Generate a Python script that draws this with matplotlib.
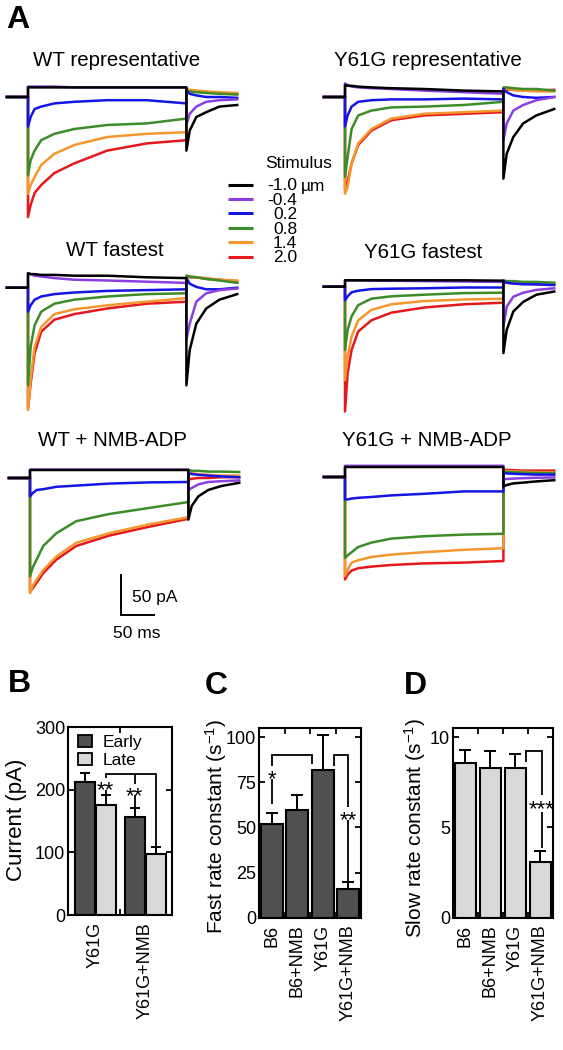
import matplotlib
matplotlib.use('Agg')
import matplotlib.pyplot as plt
from matplotlib.patches import Patch

plt.rcParams['font.family'] = ['Liberation Sans', 'DejaVu Sans']
plt.rcParams['mathtext.fontset'] = 'custom'
plt.rcParams['mathtext.rm'] = 'Liberation Sans'
plt.rcParams['mathtext.it'] = 'Liberation Sans:italic'
plt.rcParams['mathtext.default'] = 'regular'

# ------------------------------------------------------------------ data
stimulus = ['-1.0', '-0.4', '0.2', '0.8', '1.4', '2.0']
stim_unit = 'µm'

pre_t = [-32, 0]
step_t = [0, 4, 10, 20, 40, 70, 120, 180, 240]
off_t = [240, 245, 255, 270, 290, 317]

# currents in pA (negative = inward, drawn downward); rows follow `stimulus`
wt_rep_step = [
    [12, 12, 12, 12, 12, 12, 12, 12, 12],
    [13, 13, 13, 13, 13, 12, 12, 12, 12],
    [-37, -25, -15, -12, -8, -6, -4, -4, -8],
    [-98, -79, -67, -54, -46, -40, -35, -33, -27],
    [-121, -110, -100, -85, -71, -60, -50, -46, -44],
    [-150, -135, -120, -110, -95, -83, -67, -58, -54],
]
wt_rep_off = [
    [-67, -42, -25, -19, -12, -10],
    [-35, -21, -12, -6, -4, -3],
    [8, 4, 2, 0, 0, -1],
    [8, 7, 6, 5, 4, 3],
    [10, 9, 8, 7, 6, 5],
    [9, 8, 7, 6, 5, 4],
]

y61g_rep_step = [
    [15, 14, 14, 13, 12, 11, 10, 8, 7],
    [17, 15, 13, 12, 11, 10, 8, 6, 4],
    [-37, -23, -12, -6, -4, -3, -3, -2, -3],
    [-100, -75, -40, -23, -17, -13, -12, -10, -6],
    [-121, -112, -83, -58, -40, -27, -21, -19, -17],
    [-115, -105, -83, -60, -42, -29, -23, -21, -19],
]
y61g_rep_off = [
    [-102, -71, -50, -33, -23, -15],
    [-54, -33, -17, -10, -4, 0],
    [10, 6, 2, 0, -1, 0],
    [12, 12, 11, 10, 10, 8],
    [10, 10, 9, 8, 7, 7],
    [9, 9, 9, 8, 8, 9],
]

wt_fast_step = [
    [18, 17, 17, 16, 16, 15, 15, 13, 12],
    [18, 17, 15, 14, 12, 10, 9, 7.5, 6],
    [-30, -22, -15, -11, -8, -6, -4, -3, -2],
    [-122, -74, -47, -30, -20, -15, -11, -8, -7],
    [-153, -115, -74, -49, -33, -27, -22, -17.5, -13],
    [-151, -120, -82, -55, -40, -33, -26, -20, -17.5],
]
wt_fast_off = [
    [-122, -78, -45, -26, -15, -8],
    [-65, -45, -17.5, -7, -3, -1],
    [12, 5, 1, -2, -2, 0],
    [15, 14, 13, 11, 9, 6],
    [15, 14, 13, 12, 10, 9],
    [14, 13, 13, 11, 10, 7.5],
]

y61g_fast_step = [
    [8, 8, 8, 8, 8, 8, 8, 8, 7.5],
    [8, 8, 8, 8, 7.5, 7.5, 7, 6.5, 6],
    [-17, -12, -7, -5, -3, -2.5, -2, -1, -1],
    [-79, -54, -37, -23, -15, -12, -10, -8, -7.5],
    [-117, -87, -62, -42, -29, -22, -18, -16, -15],
    [-156, -108, -79, -56, -42, -32.5, -26, -22, -20],
]
y61g_fast_off = [
    [-83, -54, -31, -19, -10, -6],
    [-50, -25, -12.5, -7.5, -4, -2],
    [7, 5, 4, 3, 3, 2],
    [8, 7, 7, 6, 6, 5],
    [6, 6, 5, 5, 4, 4],
    [5, 5, 4, 4, 3, 3],
]

wt_nmb_step = [
    [10, 10, 10, 10, 10, 10, 10, 10, 10],
    [10.5, 10.5, 10.5, 10.5, 10.5, 10.5, 10.5, 10.5, 10.5],
    [-23, -19, -15, -14, -11, -9.5, -7, -5.5, -5],
    [-123, -112, -102, -85, -69, -54, -45, -37.5, -30],
    [-144, -135, -127, -115, -98, -81, -69, -58, -49],
    [-142, -138, -131, -119, -102, -85, -72, -61, -51],
]
wt_nmb_off = [
    [-52, -35, -23, -15, -10, -6],
    [-15, -12.5, -8, -5, -4, -3],
    [6, 5, 4, 3, 2, 1],
    [10, 9, 9, 8, 8, 7.5],
    [7, 6, 5, 4, 3, 3],
    [-2, -1, 0, 0, 1, 1],
]

y61g_nmb_step = [
    [12.5, 12.5, 12.5, 12.5, 12.5, 12.5, 12.5, 12.5, 12.5],
    [14, 14, 14, 14, 14, 14, 14, 14, 14],
    [-28, -28, -27, -26, -25, -23, -21, -18, -18],
    [-101, -98, -94, -87.5, -82, -77, -74, -72, -71],
    [-124, -116, -107, -104, -100, -97, -94, -91, -89],
    [-128, -122, -117, -114, -112, -110, -108, -107, -105],
]
y61g_nmb_off = [
    [-12, -10, -8, -7, -5.5, -4],
    [-3, -2.5, -2, -1.5, -1, -0.5],
    [5, 4.5, 4, 3.5, 3, 3],
    [7, 6.5, 6, 5.5, 5, 5],
    [8, 7.5, 7, 6.5, 6, 6],
    [9, 9, 8.5, 8, 8, 8],
]

# panel B
b_groups = ['Y61G', 'Y61G+NMB']
b_early = [212, 157]
b_early_err = [14, 14]
b_late = [175, 98]
b_late_err = [16, 11]

# panels C, D
cd_groups = ['B6', 'B6+NMB', 'Y61G', 'Y61G+NMB']
fast_rate = [52, 59.5, 81.6, 16]
fast_rate_err = [6, 8.5, 19.3, 3.5]
slow_rate = [8.56, 8.29, 8.29, 3.09]
slow_rate_err = [0.74, 0.91, 0.79, 0.61]

# ------------------------------------------------------------------ style
W, H = 563, 1050
trace_colors = ['#000000', '#8b3fe0', '#1515e6', '#3d8c2a', '#f4972f', '#e5181d']
dark = '#505050'
light = '#d9d9d9'
PX_MS = 0.66   # pixels per ms
PX_PA = 0.8    # pixels per pA
TICK_FS = 13
XTICK_FS = 13
YLAB_FS = 15

fig = plt.figure(figsize=(W / 100, H / 100), dpi=100)


def px_box(x0, y0, x1, y1):
    return [x0 / W, 1 - y1 / H, (x1 - x0) / W, (y1 - y0) / H]


ov = fig.add_axes([0, 0, 1, 1])
ov.set_xlim(0, W)
ov.set_ylim(H, 0)
ov.axis('off')


def trace_panel(onset, base, step_vals, off_vals, title, tpos):
    x0, x1 = onset - 30, onset + 222
    y0, y1 = base - 30, base + 165
    ax = fig.add_axes(px_box(x0, y0, x1, y1))
    ax.set_xlim((x0 - onset) / PX_MS, (x1 - onset) / PX_MS)
    ax.set_ylim(-(y1 - base) / PX_PA, -(y0 - base) / PX_PA)
    ax.axis('off')
    for i in reversed(range(len(stimulus))):
        t = pre_t + step_t + off_t
        v = [0, 0] + list(step_vals[i]) + list(off_vals[i])
        ax.plot(t, v, color=trace_colors[i], lw=1.8, solid_joinstyle='round')
    ov.text(tpos[0], tpos[1], title, ha='center', va='center', fontsize=14.8)
    return ax


trace_panel(28, 97, wt_rep_step, wt_rep_off, 'WT representative', (117, 61))
trace_panel(345, 97, y61g_rep_step, y61g_rep_off, 'Y61G representative', (428, 61))
trace_panel(28, 287.7, wt_fast_step, wt_fast_off, 'WT fastest', (115, 250))
trace_panel(345, 286.7, y61g_fast_step, y61g_fast_off, 'Y61G fastest', (423, 252))
ax_nmb = trace_panel(30, 478, wt_nmb_step, wt_nmb_off, 'WT + NMB-ADP', (113, 440))
trace_panel(345, 477, y61g_nmb_step, y61g_nmb_off, 'Y61G + NMB-ADP', (427, 440))

# scale bar (50 pA, 50 ms) in WT + NMB-ADP data units
sb_t, sb_i = 138, -121
ax_nmb.plot([sb_t, sb_t, sb_t + 50], [sb_i, sb_i - 50, sb_i - 50], color='k',
            lw=1.4, clip_on=False, solid_joinstyle='miter')
ax_nmb.text(sb_t + 17, sb_i - 28, '50 pA', ha='left', va='center', fontsize=12.5)
ax_nmb.text(sb_t + 24, sb_i - 73, '50 ms', ha='center', va='center', fontsize=12.5)

# stimulus legend
ov.text(265, 163, 'Stimulus', ha='left', va='center', fontsize=12.5)
for i, (s, c) in enumerate(zip(stimulus, trace_colors)):
    yy = 184.5 + i * 14.4
    ov.plot([228, 253], [yy, yy], color=c, lw=2.2, solid_capstyle='butt')
    ov.text(297, yy + 6, s, ha='right', va='baseline', fontsize=12.5)
    if i == 0:
        ov.text(301, yy + 6, stim_unit, ha='left', va='baseline', fontsize=12.5)

# panel letters
for letter, (lx, ly) in zip('ABCD', [(18, 20), (19, 684), (216, 686), (415, 686)]):
    ov.text(lx, ly, letter, ha='center', va='center', fontsize=23, fontweight='bold')

# ------------------------------------------------------------------ bar panels
STAR_FS = 16


def star(ax, x, y, s):
    ax.annotate(s, (x, y), xytext=(0, -0.575 * STAR_FS), textcoords='offset points',
                ha='center', va='baseline', fontsize=STAR_FS)


def seg(ax, xs, ys):
    ax.plot(xs, ys, color='k', lw=1.3, solid_capstyle='butt', solid_joinstyle='miter')


def style_bar_axes(ax, minor):
    for sp in ax.spines.values():
        sp.set_linewidth(1.5)
    ax.tick_params(axis='y', direction='in', right=True, length=4, width=1.3,
                   labelsize=TICK_FS, pad=2)
    ax.tick_params(axis='x', length=0, labelsize=XTICK_FS, pad=5)
    ax.set_xticks(minor, minor=True)
    ax.tick_params(axis='x', which='minor', direction='in', top=True, bottom=True,
                   length=4, width=1.3)


# B
axB = fig.add_axes(px_box(68, 727, 172, 915))
bx = list(range(len(b_groups)))
xe = [g - 0.21 for g in bx]
xl = [g + 0.21 for g in bx]
axB.bar(xe, b_early, width=0.4, color=dark, edgecolor='k', lw=1.5, zorder=2)
axB.bar(xl, b_late, width=0.4, color=light, edgecolor='k', lw=1.5, zorder=2)
axB.errorbar(xe, b_early, yerr=[[0] * len(bx), b_early_err], fmt='none', ecolor='k',
             elinewidth=1.4, capsize=3.5, capthick=1.4, zorder=1)
axB.errorbar(xl, b_late, yerr=[[0] * len(bx), b_late_err], fmt='none', ecolor='k',
             elinewidth=1.4, capsize=3.5, capthick=1.4, zorder=1)
axB.set_xlim(-0.54, 1.54)
axB.set_ylim(0, 300)
axB.set_yticks([0, 100, 200, 300])
axB.set_xticks(bx)
axB.set_xticklabels(b_groups, rotation=90, va='top', ha='center')
style_bar_axes(axB, [0.5])
axB.legend(handles=[Patch(facecolor=dark, edgecolor='k', lw=1.3, label='Early'),
                    Patch(facecolor=light, edgecolor='k', lw=1.3, label='Late')],
           loc='upper left', bbox_to_anchor=(0.1, 0.96), frameon=False, fontsize=12.5,
           handlelength=0.8, handleheight=0.75, handletextpad=0.6, labelspacing=0.15,
           borderpad=0, borderaxespad=0)
by = 225
seg(axB, [xl[0], xl[0], xl[1], xl[1]], [218.5, by, by, b_late[1] + b_late_err[1]])
seg(axB, [xl[0], xl[0]], [199, b_late[0] + b_late_err[0]])
star(axB, xl[0], 209.5, '**')
seg(axB, [xe[1], xe[1]], [by, 209])
seg(axB, [xe[1], xe[1]], [191, b_early[1] + b_early_err[1]])
star(axB, xe[1], 200, '**')

# C
axC = fig.add_axes(px_box(259, 728, 361, 917.7))
cx = list(range(len(cd_groups)))
axC.bar(cx, fast_rate, width=0.85, color=dark, edgecolor='k', lw=1.5, zorder=2)
axC.errorbar(cx, fast_rate, yerr=[[0] * len(cx), fast_rate_err], fmt='none', ecolor='k',
             elinewidth=1.4, capsize=4, capthick=1.4, zorder=1)
axC.set_xlim(-0.5, 3.5)
axC.set_ylim(0, 105)
axC.set_yticks([0, 25, 50, 75, 100])
axC.set_xticks(cx)
axC.set_xticklabels(cd_groups, rotation=90, va='top', ha='center')
style_bar_axes(axC, [0.5, 1.5, 2.5])
cy = 90.3
seg(axC, [0, 0, 1.575, 1.575], [83.8, cy, cy, 85])
seg(axC, [0, 0], [77, 63])
star(axC, 0, 80.2, '*')
seg(axC, [2.425, 2.425, 3, 3], [84, cy, cy, 61.5])
seg(axC, [3, 3], [54, fast_rate[3] + fast_rate_err[3]])
star(axC, 3, 57.8, '**')

# D
axD = fig.add_axes(px_box(453, 728, 552.7, 917.7))
axD.bar(cx, slow_rate, width=0.85, color=light, edgecolor='k', lw=1.5, zorder=2)
axD.errorbar(cx, slow_rate, yerr=[[0] * len(cx), slow_rate_err], fmt='none', ecolor='k',
             elinewidth=1.4, capsize=4, capthick=1.4, zorder=1)
axD.set_xlim(-0.5, 3.5)
axD.set_ylim(0, 10.5)
axD.set_yticks([0, 5, 10])
axD.set_xticks(cx)
axD.set_xticklabels(cd_groups, rotation=90, va='top', ha='center')
style_bar_axes(axD, [0.5, 1.5, 2.5])
dy = 9.2
seg(axD, [2.425, 2.425, 3.06, 3.06], [8.6, dy, dy, 6.8])
seg(axD, [3.06, 3.06], [5.86, slow_rate[3] + slow_rate_err[3] + 0.15])
star(axD, 3.06, 6.36, '***')

# y labels
ov.text(17, 820, 'Current (pA)', rotation=90, ha='center', va='center', fontsize=16)
ov.text(216, 826, 'Fast rate constant (s$^{-1}$)', rotation=90, ha='center', va='center',
        fontsize=YLAB_FS)
ov.text(415, 828, 'Slow rate constant (s$^{-1}$)', rotation=90, ha='center', va='center',
        fontsize=YLAB_FS)

fig.savefig('out.png', dpi=100)
